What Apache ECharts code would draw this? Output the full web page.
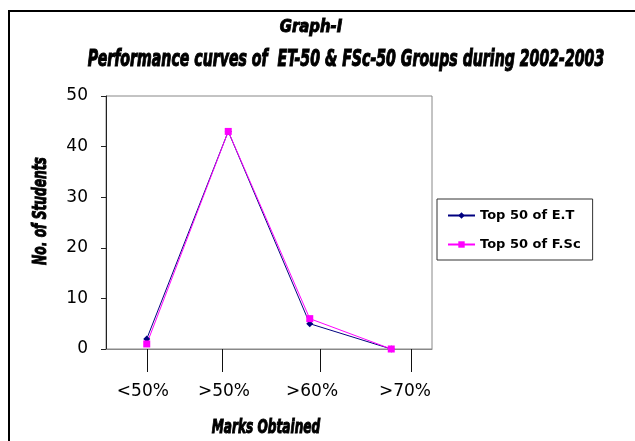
<!DOCTYPE html>
<html>
<head>
<meta charset="utf-8">
<script src="https://cdn.jsdelivr.net/npm/echarts@6/dist/echarts.min.js"></script>
<style>
  html, body { margin: 0; padding: 0; background: #fff; }
  #chart { width: 635px; height: 441px; }
</style>
</head>
<body>
<div id="chart"></div>
<script>
//*************** data ***************
var categories = ['<50%', '>50%', '>60%', '>70%'];
var top50_et = [2, 43, 5, 0];
var top50_fsc = [1, 43, 6, 0];
var y_ticks = [0, 10, 20, 30, 40, 50];
// the drawn ticks / labels under the axis sit a bit off the points (0-100 of plot width)
var tick_pos = [12.6, 35.6, 65.6, 93.6];
var label_pos = [11.3, 36.2, 63.2, 91.7];

var heavy_font = "'DejaVu Sans Condensed', 'DejaVu Sans', sans-serif";

//*************** chart ***************
var chart_dom = document.getElementById('chart');
var chart = echarts.init(chart_dom, null, {renderer: 'canvas'});

chart.setOption({
    animation: false,
    graphic: [
        {
            type: 'rect',
            shape: {x: 9, y: 11, width: 700, height: 500},
            style: {fill: 'none', stroke: '#000', lineWidth: 2},
            silent: true
        },
        {
            type: 'text',
            x: 311, y: 27,
            scaleX: 0.92,
            style: {
                text: 'Graph-I', fill: '#000', stroke: '#000', lineWidth: 0.9,
                font: "italic bold 18px " + heavy_font,
                textAlign: 'center', textVerticalAlign: 'middle'
            }
        },
        {
            type: 'text',
            x: 346, y: 60,
            scaleX: 0.683,
            style: {
                text: 'Performance curves of  ET-50 & FSc-50 Groups during 2002-2003', fill: '#000',
                stroke: '#000', lineWidth: 1.1,
                font: "italic bold 23px " + heavy_font,
                textAlign: 'center', textVerticalAlign: 'middle'
            }
        },
        {
            // y axis title
            type: 'text',
            x: 41, y: 211,
            rotation: Math.PI / 2,
            scaleX: 0.68,
            style: {
                text: 'No. of Students', fill: '#000', stroke: '#000', lineWidth: 1,
                font: "italic bold 20px " + heavy_font,
                textAlign: 'center', textVerticalAlign: 'middle'
            }
        },
        {
            // x axis title
            type: 'text',
            x: 266, y: 428,
            scaleX: 0.71,
            style: {
                text: 'Marks Obtained', fill: '#000', stroke: '#000', lineWidth: 1,
                font: "italic bold 19px " + heavy_font,
                textAlign: 'center', textVerticalAlign: 'middle'
            }
        }
    ],
    legend: {
        orient: 'vertical',
        left: 437,
        top: 199,
        padding: [10, 12, 9, 10],
        itemGap: 16,
        itemWidth: 27,
        itemHeight: 8,
        borderColor: '#333',
        borderWidth: 1,
        textStyle: {
            fontFamily: 'DejaVu Sans', fontWeight: 'bold', fontSize: 13, color: '#000'
        },
        data: ['Top 50 of E.T', 'Top 50 of F.Sc']
    },
    grid: {
        left: 106,
        top: 96,
        right: 203,
        bottom: 92,
        show: true,
        borderColor: '#888',
        borderWidth: 1,
        containLabel: false
    },
    xAxis: [
        {
            type: 'category',
            data: categories,
            boundaryGap: true,
            axisLine: {show: true, lineStyle: {color: '#888'}},
            axisTick: {show: false},
            axisLabel: {show: false},
            splitLine: {show: false}
        },
        {
            type: 'value',
            position: 'bottom',
            min: 0,
            max: 100,
            axisLine: {show: false},
            splitLine: {show: false},
            axisTick: {
                show: true,
                length: 23,
                customValues: tick_pos,
                lineStyle: {color: '#111'}
            },
            axisLabel: {
                show: true,
                margin: 34,
                customValues: label_pos,
                fontFamily: 'DejaVu Sans',
                fontSize: 17,
                color: '#000',
                formatter: function (v) {
                    var best = 0;
                    for (var i = 1; i < label_pos.length; i++) {
                        if (Math.abs(label_pos[i] - v) < Math.abs(label_pos[best] - v)) best = i;
                    }
                    return categories[best];
                }
            }
        }
    ],
    yAxis: {
        type: 'value',
        min: 0,
        max: 50,
        interval: 10,
        axisLine: {show: true, lineStyle: {color: '#222'}},
        axisTick: {show: true, length: 5, lineStyle: {color: '#222'}},
        splitLine: {show: false},
        axisLabel: {
            margin: 18,
            fontFamily: 'DejaVu Sans',
            fontSize: 17,
            color: '#000',
            customValues: y_ticks
        }
    },
    series: [
        {
            name: 'Top 50 of E.T',
            type: 'line',
            xAxisIndex: 0,
            data: top50_et,
            symbol: 'diamond',
            symbolSize: 7,
            lineStyle: {color: '#000080', width: 1},
            itemStyle: {color: '#000080'}
        },
        {
            name: 'Top 50 of F.Sc',
            type: 'line',
            xAxisIndex: 0,
            data: top50_fsc,
            symbol: 'rect',
            symbolSize: 7,
            lineStyle: {color: '#ff00ff', width: 1},
            itemStyle: {color: '#ff00ff'}
        }
    ]
});
</script>
</body>
</html>
